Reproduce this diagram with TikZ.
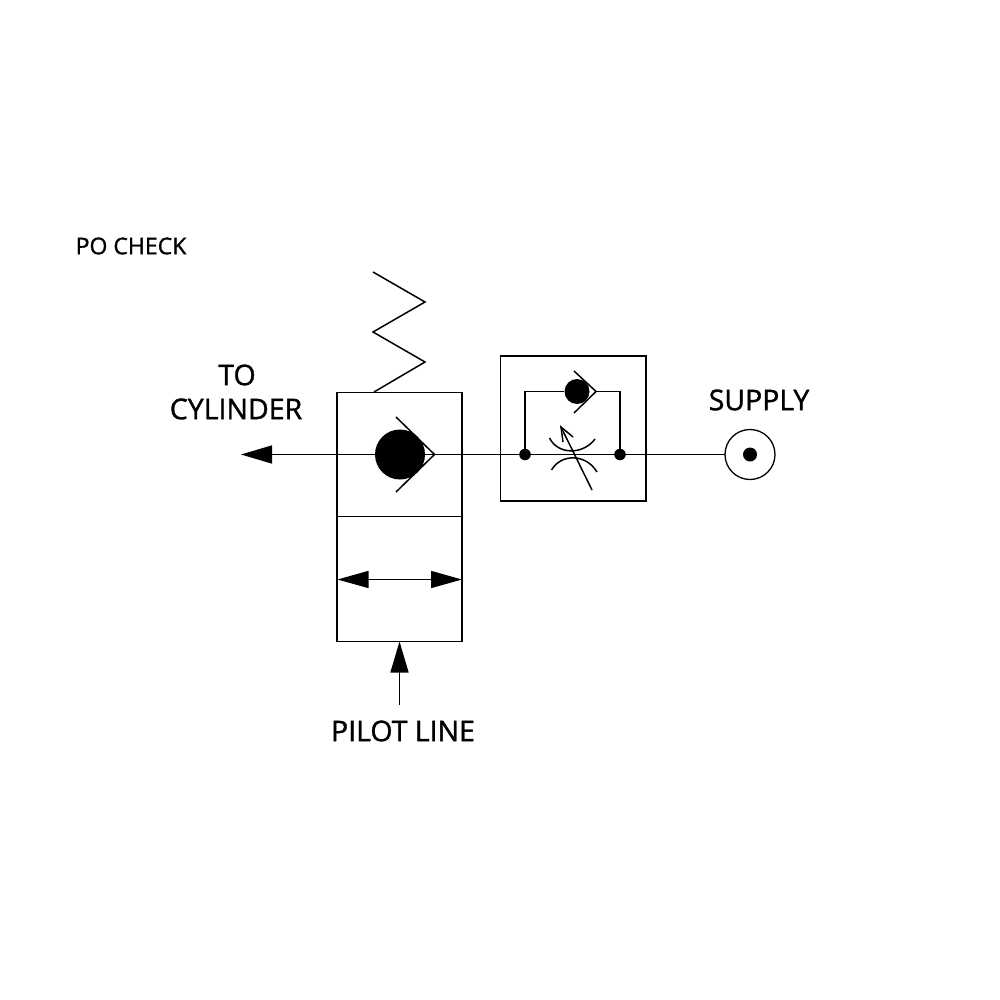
\documentclass[tikz,border=0pt]{standalone}
\usepackage{fontspec}
\setmainfont{Open Sans}
\newfontfamily\lblfont{Open Sans}[RawFeature={embolden=1.2}]
\usetikzlibrary{arrows.meta}
\tikzset{
  x=1pt,y=-1pt,
  ln/.style={line width=1.5pt,draw=black,line join=miter},
  boxnode/.style={draw=black,line width=1.3pt,rectangle,inner sep=0pt,outer sep=0pt,anchor=north west},
  dotnode/.style={circle,fill=black,draw=none,inner sep=0pt,minimum size=#1},
  lbl/.style={inner sep=0pt,text=black,font=\lblfont\fontsize{#1}{#1}\selectfont},
  solidtip/.style={-{Triangle[length=31pt,width=18pt]}},
}
\begin{document}
\begin{tikzpicture}
\useasboundingbox (0,0) rectangle (1000,1000);
\fill[white] (0,0) rectangle (1000,1000);
% anchors
\coordinate (toTip) at (241,454.5);
\coordinate (coil) at (374,392);
\coordinate (pilotTail) at (399.5,705);
\node[boxnode,minimum width=125pt,minimum height=124pt] (upper) at (337,392.5) {};
\node[boxnode,minimum width=125pt,minimum height=125pt] (lower) at (337,516.5) {};
\node[boxnode,minimum width=145.5pt,minimum height=145pt] (valve) at (500.5,356) {};
\node[boxnode,circle,anchor=center,minimum size=50pt,fill=white] (port) at (750,454.5) {};
\node[dotnode=14pt] (portdot) at (750,454.5) {};
\node[dotnode=11.5pt] (ja) at (525,454.5) {};
\node[dotnode=11.5pt] (jb) at (620,454.5) {};
% main line
\draw[ln,solidtip] (port.west) -- (toTip);
% check 1
\node[dotnode=50pt] (ball) at (400,454.5) {};
\coordinate (chevTip) at (434.5,454.5);
\draw[ln] (396,417) -- (chevTip) -- (396,492);
% spring
\draw[ln] (373,272) -- (425,302) -- (373,332) -- (425,362) -- (coil);
% double arrow
\coordinate (dl) at (337.5,579.5);
\coordinate (dr) at (462,579.5);
\draw[ln,{Triangle[length=31pt,width=17pt]}-{Triangle[length=31pt,width=17pt]}] (dl) -- (dr);
% pilot
\draw[ln,solidtip] (pilotTail) -- (lower.south -| pilotTail);
% bypass with check
\node[dotnode=25pt] (ball2) at (577,391.5) {};
\coordinate (chev2) at (596,391.5);
\draw[ln] (574,371) -- (chev2) -- (574,413);
\draw[ln] (ja) -- (ja |- ball2) -- (ball2);
\draw[ln] (chev2) -- (jb |- chev2) -- (jb);
% throttle
\draw[ln] (549.5,438) .. controls (558,455) and (583,455) .. (595,439);
\draw[ln] (551.5,470) .. controls (561,453.5) and (586,453.5) .. (597,472);
\coordinate (adjTail) at (592,490);
\coordinate (adjTip) at (561,427);
\draw[ln] (adjTail) -- (adjTip);
\draw[ln] (563,442) -- (adjTip) -- (573,437);
% labels
\node[lbl=23,anchor=center] (po) at (131,246) {PO CHECK};
\node[lbl=28.5,anchor=center] (to) at (237,375) {TO};
\node[lbl=28.5,anchor=center] (cyl) at (236,409) {CYLINDER};
\node[lbl=28.5,anchor=center] (sup) at (759,400) {SUPPLY};
\node[lbl=28.5,anchor=center] (pil) at (403,731) {PILOT LINE};
\end{tikzpicture}
\end{document}
